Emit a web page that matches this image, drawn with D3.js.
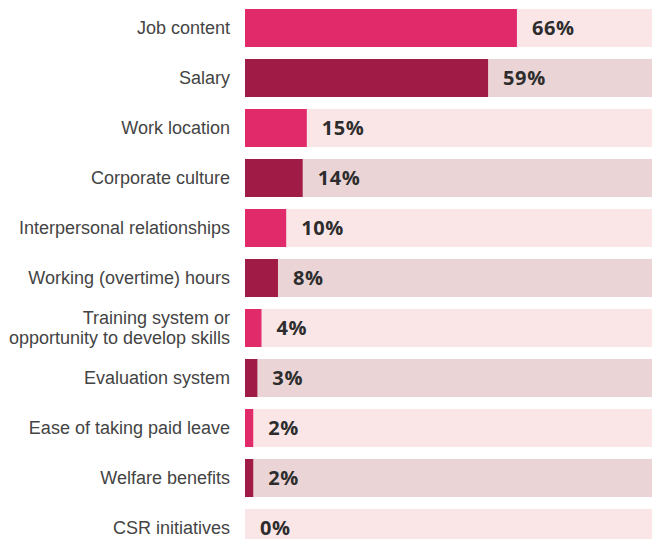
<!DOCTYPE html>
<html>
<head>
<meta charset="utf-8">
<script src="https://cdn.jsdelivr.net/npm/d3@7"></script>
<style>
  html, body { margin: 0; padding: 0; background: #ffffff; }
  svg { display: block; }
</style>
</head>
<body>
<svg id="chart" width="652" height="539"></svg>
<script>
// Factors considered when choosing a job (share of respondents, %)
const categories = [
  ["Job content"],
  ["Salary"],
  ["Work location"],
  ["Corporate culture"],
  ["Interpersonal relationships"],
  ["Working (overtime) hours"],
  ["Training system or", "opportunity to develop skills"],
  ["Evaluation system"],
  ["Ease of taking paid leave"],
  ["Welfare benefits"],
  ["CSR initiatives"]
];
const values = [66, 59, 15, 14, 10, 8, 4, 3, 2, 2, 0];
const domainMax = 100;

const svg = d3.select("#chart");
const plotLeft = 245, plotRight = 657;
const plotTop = 9, rowStep = 50, gap = 12;
const pad = gap / rowStep;

const x = d3.scaleLinear().domain([0, domainMax]).range([plotLeft, plotRight]);
const y = d3.scaleBand()
  .domain(d3.range(values.length))
  .range([plotTop, plotTop + rowStep * (values.length - pad)])
  .paddingInner(pad)
  .paddingOuter(0);

const barColors = ["#e02a6a", "#a01b45"];
const trackColors = ["#fbe6e7", "#ebd4d5"];

const rows = svg.append("g").selectAll("g")
  .data(values)
  .join("g")
  .attr("transform", (d, i) => `translate(0,${y(i)})`);

// background track spanning the full 0–100% range
rows.append("rect")
  .attr("x", x(0))
  .attr("width", x(domainMax) - x(0))
  .attr("height", y.bandwidth())
  .attr("fill", (d, i) => trackColors[i % 2]);

// value bar
rows.append("rect")
  .attr("x", x(0))
  .attr("width", d => x(d) - x(0))
  .attr("height", y.bandwidth())
  .attr("fill", (d, i) => barColors[i % 2]);

// value label
rows.append("text")
  .attr("x", d => x(d) + 15)
  .attr("y", y.bandwidth() / 2)
  .attr("dy", "0.36em")
  .attr("font-family", "'Open Sans', 'Noto Sans', sans-serif")
  .attr("font-weight", 700)
  .attr("font-size", 20)
  .attr("letter-spacing", 0.6)
  .attr("fill", "#2d2d2d")
  .text(d => d + "%");

// category labels
const lbl = rows.append("text")
  .attr("text-anchor", "end")
  .attr("font-family", "'Liberation Sans', Arial, sans-serif")
  .attr("font-size", 18)
  .attr("fill", "#444444");

lbl.each(function(d, i) {
  const lines = categories[i];
  const lh = 20;
  const y0 = y.bandwidth() / 2 - (lines.length - 1) * lh / 2;
  d3.select(this).selectAll("tspan")
    .data(lines)
    .join("tspan")
    .attr("x", 230)
    .attr("y", (t, j) => y0 + j * lh)
    .attr("dy", "0.36em")
    .text(t => t);
});
</script>
</body>
</html>
